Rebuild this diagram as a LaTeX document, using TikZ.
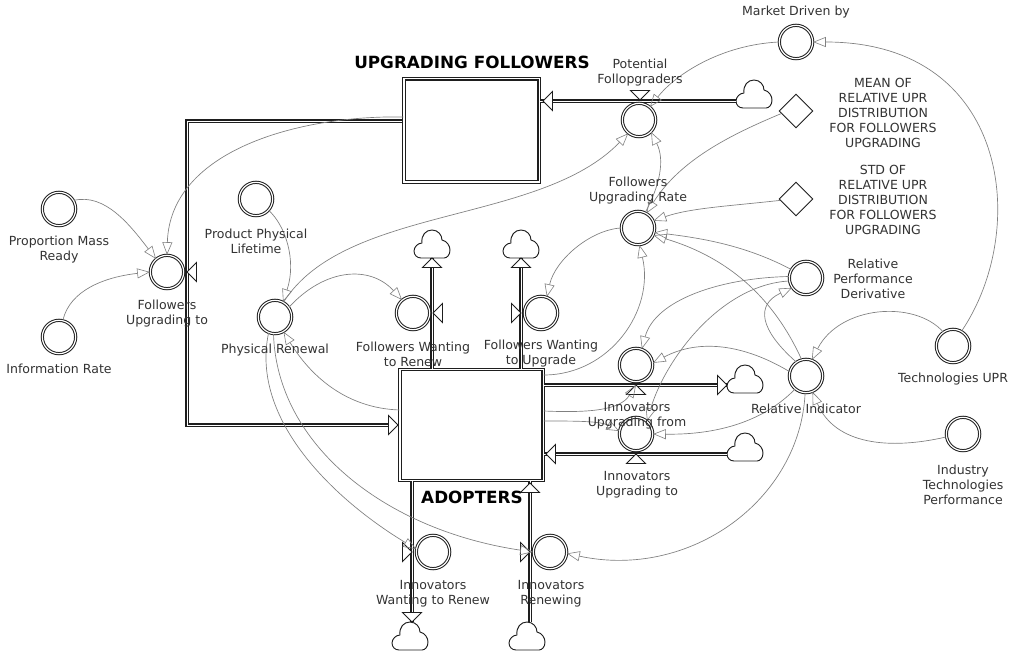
\documentclass[tikz,border=0pt]{standalone}
\usepackage{fontspec}
\setmainfont{DejaVu Sans}
\usetikzlibrary{arrows.meta,shapes.geometric}
\definecolor{inkc}{HTML}{1E1E1E}
\definecolor{txtc}{HTML}{333333}
\definecolor{linkc}{HTML}{808080}
\tikzset{
  stockbox/.style={draw=inkc,fill=white,rectangle,double,double distance=1pt,line width=.85pt,inner sep=0pt},
  aux/.style={draw=inkc,fill=white,circle,double,double distance=.9pt,line width=.75pt,minimum size=25pt,inner sep=0pt},
  constbox/.style={draw=inkc,fill=white,diamond,line width=.7pt,minimum size=25.5pt,inner sep=0pt},
  cloudspot/.style={inner sep=0pt,minimum width=26.5pt,minimum height=21pt},
  cloudline/.style={draw=inkc,fill=white,line width=.7pt,line join=round},
  pipe/.style={preaction={draw=inkc,line width=3pt},draw=white,line width=.65pt},
  tipline/.style={draw=inkc,fill=white,line width=.7pt,line join=miter},
  link/.style={draw=linkc,line width=.5pt,-{Triangle[open,length=9.5pt,width=7.5pt,line width=.45pt]}},
  lbl/.style={text=txtc,font=\fontsize{9.4}{11.25}\selectfont,align=center,inner sep=0pt,yshift=-.7pt},
  stocklbl/.style={text=black,font=\fontsize{12.6}{14}\selectfont\bfseries,inner sep=0pt}
}
\newcommand{\flowcloud}[2]{%
  \node[cloudspot] (#1) at #2 {};
  \draw[cloudline,shift={#2}] (-11,14) .. controls (-15,14) and (-18,11) .. (-18,7)
    .. controls (-18,3) and (-14,-1) .. (-10,-1)
    .. controls (-11,-9) and (-6,-14) .. (0,-14)
    .. controls (6,-14) and (10,-9) .. (10,-4)
    .. controls (15,-3) and (18,2) .. (18,6)
    .. controls (18,11) and (15,14) .. (12,14) -- cycle;}
\newcommand{\flowtip}[4]{%
  \coordinate (#1) at (#2,#3);
  \begin{scope}[shift={(#1)},rotate=#4]
    \draw[tipline] (0,0) -- (-9.5,-9.5) -- (-9.5,9.5) -- cycle;
  \end{scope}}
\begin{document}
\begin{tikzpicture}[x=.75pt,y=-.75pt]
\useasboundingbox[fill=white] (0,0) rectangle (1010,655);

% clouds
\flowcloud{cA}{(754,94)}
\flowcloud{cB}{(432,244)}
\flowcloud{cC}{(521,244)}
\flowcloud{cD}{(745,379)}
\flowcloud{cE}{(745,447)}
\flowcloud{cF}{(410,636)}
\flowcloud{cG}{(527,636)}

% stocks
\node[stockbox,minimum width=101.5pt,minimum height=77.5pt] (UF) at (471.5,130.5) {};
\node[stockbox,minimum width=107.5pt,minimum height=83pt] (AD) at (471.5,425) {};

% flow end points
\coordinate (eUF) at (402,121);
\coordinate (eAD) at (392,425);

% pipes
\draw[pipe] (cA.west |- 0,101) -- (UF.east |- 0,101);
\draw[pipe] (eUF) -- (187,121) -- (187,425) -- (eAD);
\draw[pipe] (AD.north -| 432,0) -- (cB.south -| 432,0);
\draw[pipe] (AD.north -| 521,0) -- (cC.south -| 521,0);
\draw[pipe] (AD.east |- 0,385) -- (cD.west |- 0,385);
\draw[pipe] (cE.west |- 0,454) -- (AD.east |- 0,454);
\draw[pipe] (AD.south -| 412,0) -- (cF.north -| 412,0);
\draw[pipe] (cG.north -| 530,0) -- (AD.south -| 530,0);

% auxiliaries
\node[aux] (MD) at (796,42) {};
\node[aux] (PF) at (639,120) {};
\node[aux] (FUR) at (638,228) {};
\node[aux] (PR) at (275,317) {};
\node[aux] (PPL) at (256,199) {};
\node[aux] (PMR) at (59,209) {};
\node[aux] (IR) at (59,337) {};
\node[aux] (FUT) at (167,272) {};
\node[aux] (FWR) at (413,313) {};
\node[aux] (FWU) at (541,313) {};
\node[aux] (RPD) at (806,278) {};
\node[aux] (RI) at (806,376) {};
\node[aux] (TU) at (953,346) {};
\node[aux] (ITP) at (963,434) {};
\node[aux] (IUF) at (636,365) {};
\node[aux] (IUT) at (636,434) {};
\node[aux] (IWR) at (433,552) {};
\node[aux] (IRN) at (550,552) {};
\node[constbox] (DA) at (796,111) {};
\node[constbox] (DB) at (796,199) {};

% valves and flow heads
\flowtip{vPF}{640}{100}{-90}
\flowtip{vFUT}{187}{272}{180}
\flowtip{vFWR}{433}{313}{180}
\flowtip{vFWU}{521}{313}{0}
\flowtip{vIUF}{636}{385}{90}
\flowtip{vIUT}{636}{454}{90}
\flowtip{vIWR}{412}{552}{0}
\flowtip{vIRN}{530}{552}{0}
\flowtip{hUF}{543}{101}{180}
\flowtip{hAD}{398}{425}{0}
\flowtip{hB}{432}{258}{90}
\flowtip{hC}{521}{258}{90}
\flowtip{hD}{727}{385}{0}
\flowtip{hE}{546}{454}{180}
\flowtip{hF}{412}{622}{-90}
\flowtip{hG}{530}{483}{90}

% information links
\draw[link] (PMR.30) .. controls (105,193) and (130,225) .. (FUT.130);
\draw[link] (IR.77) .. controls (70,290) and (105,277) .. (FUT.180);
\draw[link] (UF.west |- 0,117) .. controls (300,115) and (170,150) .. (FUT.90);
\draw[link] (PPL.-42) .. controls (285,225) and (297,260) .. (PR.62);
\draw[link] (PR.60) .. controls (345,205) and (540,225) .. (PF.231);
\draw[link] (PR.35) .. controls (325,268) and (370,265) .. (FWR.130);
\draw[link] (AD.west |- 0,410) .. controls (345,408) and (310,375) .. (PR.-60);
\draw[link] (PR.-112) .. controls (250,420) and (335,500) .. (IWR.170);
\draw[link] (PR.-95) .. controls (277,445) and (385,530) .. (IRN.180);
\draw[link] (RI.-93) .. controls (800,500) and (690,580) .. (IRN.-5);
\draw[link] (RI.125) .. controls (760,330) and (755,305) .. (RPD.-145);
\draw[link] (RPD.150) .. controls (745,245) and (700,238) .. (FUR.-15);
\draw[link] (RI.105) .. controls (770,290) and (720,255) .. (FUR.-25);
\draw[link] (RPD.175) .. controls (720,278) and (655,300) .. (IUF.70);
\draw[link] (RPD.190) .. controls (720,285) and (665,360) .. (IUT.50);
\draw[link] (RI.165) .. controls (745,345) and (700,338) .. (IUF.7);
\draw[link] (RI.-130) .. controls (765,420) and (720,435) .. (IUT.0);
\draw[link] (TU.125) .. controls (915,300) and (840,305) .. (RI.70);
\draw[link] (ITP.190) .. controls (890,450) and (835,445) .. (RI.-68);
\draw[link] (TU.60) .. controls (1030,230) and (1010,42) .. (MD.0);
\draw[link] (MD.180) .. controls (720,45) and (675,75) .. (PF.50);
\draw[link] (DA.190) .. controls (730,135) and (680,160) .. (FUR.60);
\draw[link] (DB.185) .. controls (730,206) and (690,208) .. (FUR.25);
\draw[link] (FUR.65) .. controls (660,185) and (665,160) .. (PF.-45);
\draw[link] (FUR.180) .. controls (590,230) and (555,260) .. (FWU.70);
\draw[link] (AD.east |- 0,375) .. controls (610,375) and (655,310) .. (FUR.-85);
\draw[link] (AD.east |- 0,411) .. controls (590,413) and (620,410) .. (vIUF);
\draw[link] (AD.east |- 0,421) .. controls (575,421) and (600,421) .. (IUT.170);

% labels
\node[stocklbl] (tUF) at (472,62) {UPGRADING FOLLOWERS};
\node[stocklbl] (tAD) at (472,497) {ADOPTERS};
\node[lbl] (tMD) at (796,11) {Market Driven by};
\node[lbl] (tPF) at (640,72) {Potential\\Follopgraders};
\node[lbl] (tDA) at (883,112) {MEAN OF\\RELATIVE UPR\\DISTRIBUTION\\FOR FOLLOWERS\\UPGRADING};
\node[lbl] (tDB) at (883,199.5) {STD OF\\RELATIVE UPR\\DISTRIBUTION\\FOR FOLLOWERS\\UPGRADING};
\node[lbl] (tFUR) at (638,189.5) {Followers\\Upgrading Rate};
\node[lbl] (tPPL) at (256,240) {Product Physical\\Lifetime};
\node[lbl] (tPMR) at (59,249) {Proportion Mass\\Ready};
\node[lbl] (tIR) at (59,368) {Information Rate};
\node[lbl] (tFUT) at (167,313) {Followers\\Upgrading to};
\node[lbl] (tPR) at (275,349) {Physical Renewal};
\node[lbl] (tFWR) at (413,353) {Followers Wanting\\to Renew};
\node[lbl] (tFWU) at (541,353) {Followers Wanting\\to Upgrade};
\node[lbl] (tRPD) at (873,278) {Relative\\Performance\\Derivative};
\node[lbl] (tRI) at (806,408) {Relative Indicator};
\node[lbl] (tTU) at (953,378) {Technologies UPR};
\node[lbl] (tITP) at (963,484) {Industry\\Technologies\\Performance};
\node[lbl] (tIUF) at (637,415) {Innovators\\Upgrading from};
\node[lbl] (tIUT) at (637,484) {Innovators\\Upgrading to};
\node[lbl] (tIWR) at (433,593) {Innovators\\Wanting to Renew};
\node[lbl] (tIRN) at (551,593) {Innovators\\Renewing};
\end{tikzpicture}
\end{document}
